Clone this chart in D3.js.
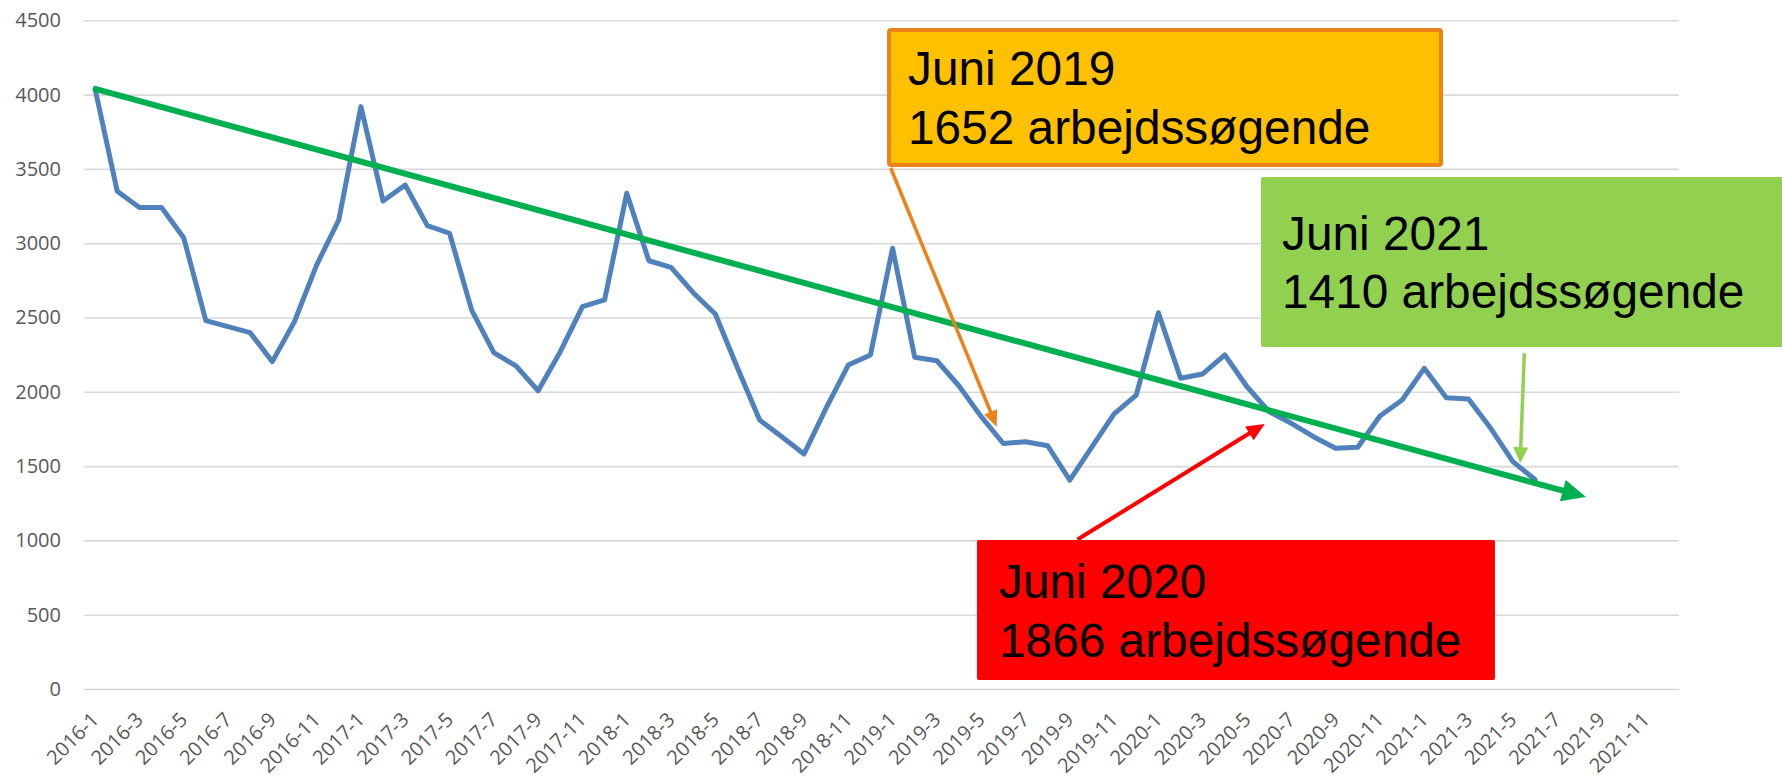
<!DOCTYPE html>
<html><head><meta charset="utf-8">
<script src="https://cdn.jsdelivr.net/npm/d3@7"></script>
<style>body{margin:0;background:#fff}svg{display:block}</style></head>
<body><svg id="c" width="1782" height="777"></svg>
<script>
// ---------- data ----------
const years = [2016, 2017, 2018, 2019, 2020, 2021];
const monthNumbers = [1, 2, 3, 4, 5, 6, 7, 8, 9, 10, 11, 12];
const categories = years.flatMap(y => monthNumbers.map(m => `${y}-${m}`));
const jobseekers = [
  4040, 3350, 3240, 3240, 3037, 2479, 2438, 2398, 2203, 2472, 2853, 3156,
  3919, 3284, 3392, 3118, 3067, 2550, 2263, 2174, 2007, 2270, 2573, 2618,
  3336, 2882, 2837, 2667, 2524, 2160, 1810, 1698, 1581, 1890, 2180, 2248,
  2966, 2232, 2209, 2039, 1833, 1652, 1664, 1637, 1406, 1630, 1851, 1978,
  2532, 2091, 2120, 2248, 2034, 1866, 1788, 1698, 1620, 1627, 1837, 1945,
  2158, 1960, 1952, 1754, 1530, 1410
];
const yTicks = [0, 500, 1000, 1500, 2000, 2500, 3000, 3500, 4000, 4500];
const xTickLabels = categories.filter((d, i) => i % 2 === 0);
// trend arrow (category index, value)
const trendFrom = [-0.08, 4042];
const trendTo = [67.3, 1292];
// callouts: text lines and arrow tip (category index, value)
const calloutLines = [
  ["Juni 2019", "1652 arbejdssøgende"],
  ["Juni 2020", "1866 arbejdssøgende"],
  ["Juni 2021", "1410 arbejdssøgende"]
];
const calloutTips = [[40.7, 1765], [52.8, 1784], [64.33, 1519]];

// ---------- layout / style ----------
(function () {
const W = 1782, H = 777;
const pLeft = 84, pRight = 1679, pTop = 20.3, pBottom = 689;
const svg = d3.select("#c");
svg.append("rect").attr("width", W).attr("height", H).attr("fill", "#fff");

const x = d3.scaleBand().domain(categories).range([pLeft, pRight]).padding(0);
const y = d3.scaleLinear().domain([0, 4500]).range([pBottom, pTop]);
const xi = i => x(categories[0]) + x.bandwidth() / 2 + i * x.step();

const axisFont = "'Open Sans', 'Noto Sans', sans-serif";

// y axis + grid
const gy = svg.append("g").attr("transform", `translate(${pLeft},0)`)
  .call(d3.axisLeft(y).tickValues(yTicks).tickFormat(d3.format("d"))
    .tickSize(-(pRight - pLeft)).tickPadding(23));
gy.select(".domain").remove();
gy.selectAll("line").attr("stroke", "#d9d9d9").attr("stroke-width", 1.6);
gy.selectAll("text").attr("fill", "#595959").style("font-family", axisFont).style("font-size", "20px");

// x axis labels
const gx = svg.append("g").attr("transform", `translate(0,${pBottom})`)
  .call(d3.axisBottom(x).tickValues(xTickLabels).tickSize(0));
gx.select(".domain").remove();
gx.selectAll("text")
  .attr("fill", "#595959").style("font-family", axisFont).style("font-size", "20px")
  .attr("text-anchor", "end").attr("dy", null).attr("y", 0).attr("x", 0)
  .attr("transform", "translate(5,32) rotate(-45)");

// data line
svg.append("path").datum(jobseekers)
  .attr("fill", "none").attr("stroke", "#4f81bd").attr("stroke-width", 5)
  .attr("stroke-linejoin", "round").attr("stroke-linecap", "round")
  .attr("d", d3.line().x((d, i) => xi(i)).y(d => y(d)));

function arrow(g, x1, y1, x2, y2, color, sw, hl, hw) {
  const dx = x2 - x1, dy = y2 - y1, len = Math.hypot(dx, dy);
  const ux = dx / len, uy = dy / len;
  const bx = x2 - ux * hl, by = y2 - uy * hl;
  g.append("line").attr("x1", x1).attr("y1", y1).attr("x2", bx + ux * 2).attr("y2", by + uy * 2)
    .attr("stroke", color).attr("stroke-width", sw);
  g.append("polygon")
    .attr("points", [[x2, y2], [bx - uy * hw / 2, by + ux * hw / 2], [bx + uy * hw / 2, by - ux * hw / 2]].map(p => p.join(",")).join(" "))
    .attr("fill", color);
}

// trend arrow
const ga = svg.append("g");
arrow(ga, xi(trendFrom[0]), y(trendFrom[1]), xi(trendTo[0]), y(trendTo[1]), "#00b050", 6, 24, 22);

// callouts
const boxes = [
  {x: 889, y: 30, w: 552, h: 135, fill: "#ffc000", stroke: "#ee821a", sw: 4, tx: 908, b1: 85, b2: 144, ax: 890.7, ay: 168, ac: "#ee821a", asw: 3.5, hl: 16, hw: 14},
  {x: 977, y: 540, w: 518, h: 140, fill: "#ff0000", stroke: "none", sw: 0, tx: 999, b1: 598, b2: 657, ax: 1077.5, ay: 539.5, ac: "#ff0000", asw: 4, hl: 18, hw: 16},
  {x: 1261, y: 177, w: 530, h: 170, fill: "#92d050", stroke: "none", sw: 0, tx: 1282, b1: 250, b2: 308, ax: 1524.3, ay: 353.3, ac: "#92d050", asw: 3.5, hl: 16, hw: 15}
];
boxes.forEach((b, k) => {
  const g = svg.append("g");
  arrow(g, b.ax, b.ay, xi(calloutTips[k][0]), y(calloutTips[k][1]), b.ac, b.asw, b.hl, b.hw);
  g.append("rect").attr("x", b.x).attr("y", b.y).attr("width", b.w).attr("height", b.h)
    .attr("rx", 2).attr("fill", b.fill).attr("stroke", b.stroke).attr("stroke-width", b.sw);
  [b.b1, b.b2].forEach((bl, j) => {
    g.append("text").attr("x", b.tx).attr("y", bl).text(calloutLines[k][j])
      .style("font-family", "'Liberation Sans', Arial, sans-serif").style("font-size", "47.8px").attr("fill", "#000");
  });
});
})();
</script></body></html>
